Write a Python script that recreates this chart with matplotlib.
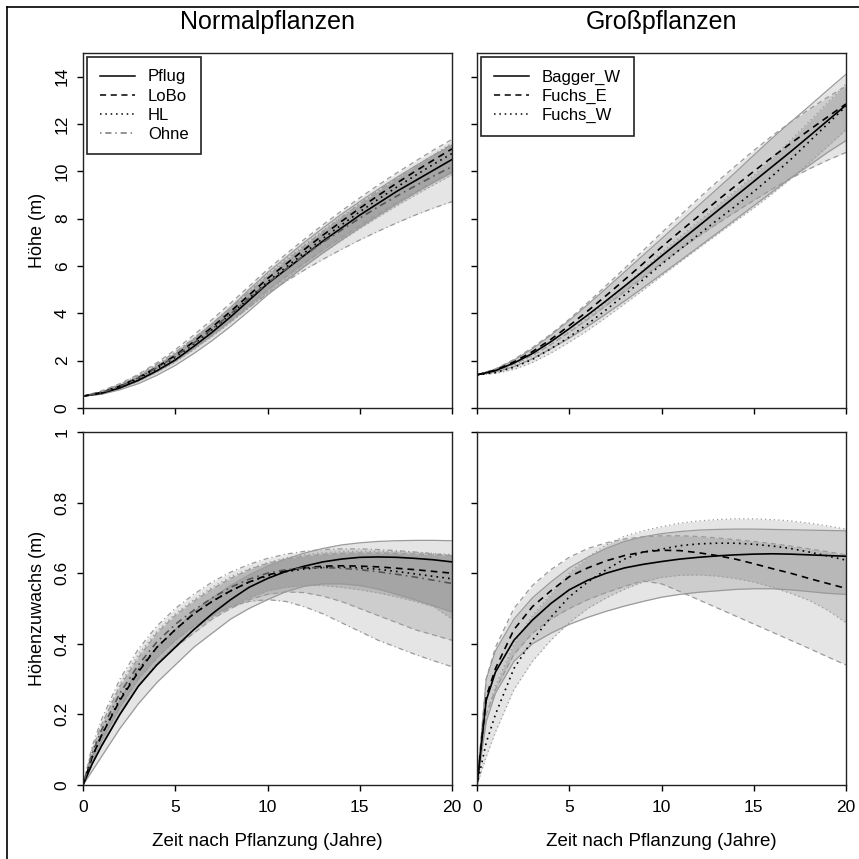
import matplotlib
matplotlib.use("Agg")
import matplotlib.pyplot as plt
from matplotlib.lines import Line2D
import numpy as np

plt.rcParams['font.family'] = ['Liberation Sans', 'DejaVu Sans']

# Zeitachsen (Jahre nach Pflanzung)
t_hoehe = [0, 1, 2, 3, 4, 5, 6, 7, 8, 9, 10, 11, 12, 13, 14, 15, 16, 17, 18, 19, 20]
t_zuwachs = [0, 0.5, 1, 2, 3, 4, 5, 6, 7, 8, 9, 10, 11, 12, 13, 14, 15, 16, 17, 18, 19, 20]

# --- Normalpflanzen: Hoehe (m) ---
pflug_h = [0.5, 0.62, 0.85, 1.17, 1.57, 2.03, 2.6, 3.2, 3.85, 4.55, 5.25, 5.85, 6.45, 7.05, 7.6, 8.15, 8.65, 9.15, 9.6, 10.05, 10.5]
pflug_h_lo = [0.5, 0.58, 0.77, 1.03, 1.38, 1.8, 2.3, 2.85, 3.45, 4.1, 4.78, 5.38, 5.98, 6.55, 7.1, 7.63, 8.13, 8.62, 9.08, 9.53, 9.95]
pflug_h_hi = [0.5, 0.66, 0.93, 1.31, 1.77, 2.28, 2.9, 3.56, 4.25, 5.0, 5.72, 6.36, 7.0, 7.6, 8.18, 8.72, 9.24, 9.74, 10.22, 10.68, 11.1]
lobo_h = [0.5, 0.66, 0.93, 1.28, 1.72, 2.22, 2.8, 3.42, 4.08, 4.77, 5.47, 6.08, 6.7, 7.3, 7.88, 8.44, 8.98, 9.5, 10.0, 10.48, 10.95]
lobo_h_lo = [0.5, 0.6, 0.83, 1.14, 1.53, 1.98, 2.51, 3.08, 3.69, 4.33, 4.98, 5.55, 6.12, 6.67, 7.2, 7.71, 8.2, 8.67, 9.12, 9.56, 10.0]
lobo_h_hi = [0.5, 0.72, 1.03, 1.42, 1.91, 2.46, 3.08, 3.74, 4.43, 5.14, 5.85, 6.5, 7.13, 7.74, 8.32, 8.88, 9.42, 9.93, 10.42, 10.9, 11.35]
hl_h = [0.5, 0.64, 0.9, 1.24, 1.66, 2.14, 2.7, 3.31, 3.96, 4.64, 5.33, 5.95, 6.56, 7.16, 7.73, 8.29, 8.82, 9.33, 9.82, 10.3, 10.75]
hl_h_lo = [0.5, 0.59, 0.82, 1.12, 1.5, 1.94, 2.46, 3.02, 3.62, 4.25, 4.88, 5.45, 6.01, 6.55, 7.07, 7.58, 8.07, 8.54, 8.99, 9.43, 9.85]
hl_h_hi = [0.5, 0.69, 0.98, 1.36, 1.82, 2.34, 2.93, 3.57, 4.24, 4.94, 5.64, 6.28, 6.9, 7.5, 8.08, 8.64, 9.18, 9.7, 10.2, 10.7, 11.2]
ohne_h = [0.5, 0.65, 0.92, 1.27, 1.7, 2.18, 2.74, 3.34, 3.98, 4.63, 5.28, 5.87, 6.45, 7.0, 7.52, 8.02, 8.5, 8.95, 9.38, 9.8, 10.2]
ohne_h_lo = [0.5, 0.6, 0.84, 1.16, 1.55, 2.0, 2.52, 3.08, 3.66, 4.25, 4.84, 5.35, 5.83, 6.28, 6.7, 7.1, 7.47, 7.82, 8.15, 8.45, 8.72]
ohne_h_hi = [0.5, 0.7, 1.0, 1.39, 1.85, 2.36, 2.94, 3.56, 4.22, 4.9, 5.58, 6.22, 6.85, 7.46, 8.05, 8.62, 9.17, 9.7, 10.2, 10.68, 11.15]

# --- Normalpflanzen: Hoehenzuwachs (m) ---
pflug_z = [0, 0.06, 0.11, 0.2, 0.28, 0.34, 0.39, 0.44, 0.485, 0.525, 0.56, 0.585, 0.605, 0.62, 0.632, 0.64, 0.645, 0.646, 0.645, 0.642, 0.638, 0.632]
pflug_z_lo = [0, 0.04, 0.08, 0.16, 0.23, 0.29, 0.34, 0.39, 0.43, 0.47, 0.5, 0.525, 0.548, 0.563, 0.57, 0.57, 0.565, 0.555, 0.54, 0.525, 0.508, 0.49]
pflug_z_hi = [0, 0.08, 0.14, 0.24, 0.33, 0.39, 0.44, 0.49, 0.53, 0.565, 0.595, 0.62, 0.64, 0.657, 0.67, 0.68, 0.686, 0.69, 0.692, 0.693, 0.693, 0.692]
lobo_z = [0, 0.08, 0.14, 0.24, 0.32, 0.39, 0.44, 0.485, 0.52, 0.55, 0.575, 0.595, 0.607, 0.615, 0.62, 0.621, 0.62, 0.618, 0.614, 0.61, 0.605, 0.6]
lobo_z_lo = [0, 0.06, 0.11, 0.2, 0.28, 0.34, 0.39, 0.43, 0.47, 0.5, 0.525, 0.54, 0.547, 0.545, 0.535, 0.52, 0.5, 0.48, 0.46, 0.44, 0.425, 0.41]
lobo_z_hi = [0, 0.1, 0.17, 0.28, 0.36, 0.43, 0.48, 0.52, 0.555, 0.585, 0.61, 0.628, 0.64, 0.648, 0.653, 0.656, 0.657, 0.657, 0.656, 0.654, 0.652, 0.65]
hl_z = [0, 0.08, 0.14, 0.245, 0.325, 0.39, 0.44, 0.485, 0.52, 0.55, 0.575, 0.592, 0.604, 0.612, 0.616, 0.617, 0.615, 0.611, 0.605, 0.598, 0.591, 0.584]
hl_z_lo = [0, 0.06, 0.11, 0.2, 0.28, 0.345, 0.395, 0.44, 0.475, 0.505, 0.53, 0.55, 0.56, 0.565, 0.565, 0.56, 0.553, 0.544, 0.533, 0.52, 0.505, 0.47]
hl_z_hi = [0, 0.1, 0.17, 0.285, 0.37, 0.435, 0.485, 0.525, 0.56, 0.59, 0.612, 0.63, 0.643, 0.652, 0.658, 0.661, 0.662, 0.662, 0.661, 0.659, 0.656, 0.653]
ohne_z = [0, 0.09, 0.155, 0.26, 0.34, 0.405, 0.455, 0.495, 0.53, 0.56, 0.583, 0.6, 0.61, 0.615, 0.616, 0.614, 0.61, 0.604, 0.597, 0.589, 0.58, 0.571]
ohne_z_lo = [0, 0.07, 0.125, 0.22, 0.3, 0.36, 0.41, 0.45, 0.48, 0.505, 0.52, 0.525, 0.52, 0.505, 0.485, 0.46, 0.435, 0.41, 0.39, 0.37, 0.352, 0.335]
ohne_z_hi = [0, 0.11, 0.185, 0.3, 0.385, 0.45, 0.5, 0.54, 0.575, 0.603, 0.625, 0.642, 0.654, 0.662, 0.667, 0.669, 0.669, 0.667, 0.664, 0.66, 0.655, 0.65]

# --- Grosspflanzen: Hoehe (m) ---
bagger_h = [1.4, 1.58, 1.9, 2.3, 2.8, 3.35, 3.93, 4.53, 5.15, 5.78, 6.42, 7.05, 7.68, 8.31, 8.94, 9.57, 10.2, 10.83, 11.48, 12.14, 12.8]
bagger_h_lo = [1.4, 1.52, 1.75, 2.08, 2.5, 2.95, 3.45, 3.98, 4.52, 5.08, 5.65, 6.22, 6.8, 7.38, 7.96, 8.55, 9.13, 9.72, 10.25, 10.8, 11.3]
bagger_h_hi = [1.4, 1.64, 2.02, 2.5, 3.07, 3.7, 4.37, 5.05, 5.75, 6.45, 7.15, 7.85, 8.55, 9.25, 9.95, 10.68, 11.4, 12.08, 12.75, 13.43, 14.1]
fuchse_h = [1.4, 1.6, 1.95, 2.38, 2.9, 3.48, 4.1, 4.75, 5.42, 6.1, 6.8, 7.46, 8.1, 8.75, 9.38, 10.0, 10.6, 11.18, 11.74, 12.3, 12.85]
fuchse_h_lo = [1.4, 1.55, 1.85, 2.22, 2.68, 3.2, 3.75, 4.33, 4.92, 5.52, 6.12, 6.7, 7.25, 7.78, 8.28, 8.77, 9.25, 9.7, 10.1, 10.47, 10.8]
fuchse_h_hi = [1.4, 1.65, 2.05, 2.55, 3.12, 3.75, 4.45, 5.17, 5.9, 6.65, 7.4, 8.13, 8.85, 9.55, 10.22, 10.88, 11.5, 12.08, 12.62, 13.13, 13.6]
fuchsw_h = [1.4, 1.5, 1.72, 2.05, 2.5, 3.0, 3.55, 4.15, 4.78, 5.42, 6.07, 6.7, 7.32, 7.93, 8.53, 9.14, 9.8, 10.5, 11.25, 12.0, 12.75]
fuchsw_h_lo = [1.4, 1.46, 1.63, 1.92, 2.32, 2.78, 3.28, 3.83, 4.4, 4.98, 5.58, 6.17, 6.75, 7.32, 7.89, 8.45, 9.05, 9.68, 10.35, 11.05, 11.75]
fuchsw_h_hi = [1.4, 1.54, 1.81, 2.18, 2.68, 3.22, 3.82, 4.47, 5.16, 5.86, 6.56, 7.23, 7.89, 8.54, 9.17, 9.83, 10.55, 11.32, 12.1, 12.9, 13.7]

# --- Grosspflanzen: Hoehenzuwachs (m) ---
bagger_z = [0, 0.24, 0.32, 0.41, 0.467, 0.514, 0.553, 0.58, 0.6, 0.615, 0.625, 0.633, 0.64, 0.645, 0.649, 0.652, 0.654, 0.655, 0.654, 0.652, 0.65, 0.648]
bagger_z_lo = [0, 0.18, 0.26, 0.35, 0.4, 0.43, 0.455, 0.475, 0.492, 0.507, 0.52, 0.532, 0.54, 0.546, 0.55, 0.554, 0.556, 0.556, 0.553, 0.548, 0.543, 0.54]
bagger_z_hi = [0, 0.3, 0.38, 0.47, 0.53, 0.575, 0.615, 0.645, 0.67, 0.69, 0.703, 0.712, 0.718, 0.722, 0.724, 0.725, 0.725, 0.724, 0.723, 0.722, 0.721, 0.72]
fuchse_z = [0, 0.25, 0.33, 0.44, 0.505, 0.55, 0.59, 0.615, 0.635, 0.65, 0.66, 0.665, 0.664, 0.658, 0.65, 0.64, 0.627, 0.613, 0.6, 0.585, 0.571, 0.557]
fuchse_z_lo = [0, 0.2, 0.27, 0.37, 0.43, 0.47, 0.5, 0.525, 0.545, 0.563, 0.578, 0.57, 0.548, 0.525, 0.502, 0.479, 0.456, 0.433, 0.41, 0.387, 0.363, 0.34]
fuchse_z_hi = [0, 0.3, 0.39, 0.5, 0.565, 0.61, 0.645, 0.67, 0.686, 0.697, 0.703, 0.706, 0.706, 0.704, 0.7, 0.695, 0.69, 0.684, 0.677, 0.669, 0.661, 0.652]
fuchsw_z = [0, 0.12, 0.2, 0.33, 0.41, 0.475, 0.533, 0.575, 0.61, 0.64, 0.66, 0.668, 0.678, 0.683, 0.685, 0.685, 0.682, 0.677, 0.67, 0.66, 0.649, 0.637]
fuchsw_z_lo = [0, 0.08, 0.15, 0.27, 0.35, 0.41, 0.46, 0.5, 0.53, 0.555, 0.575, 0.588, 0.594, 0.595, 0.592, 0.585, 0.575, 0.56, 0.543, 0.523, 0.495, 0.46]
fuchsw_z_hi = [0, 0.2, 0.28, 0.4, 0.48, 0.54, 0.6, 0.645, 0.68, 0.705, 0.72, 0.732, 0.742, 0.748, 0.752, 0.754, 0.754, 0.752, 0.748, 0.742, 0.734, 0.725]

# Linientypen wie in R: lty 1, 2, 3, 4
STYLES = ['-', (0, (4, 3)), (0, (1, 2.5)), (0, (1, 2.5, 4, 2.5))]
MEAN_COLORS = ['black', 'black', 'black', '#555555']

normal_names = ['Pflug', 'LoBo', 'HL', 'Ohne']
gross_names = ['Bagger_W', 'Fuchs_E', 'Fuchs_W']

normal_hoehe = [(pflug_h, pflug_h_lo, pflug_h_hi), (lobo_h, lobo_h_lo, lobo_h_hi),
                (hl_h, hl_h_lo, hl_h_hi), (ohne_h, ohne_h_lo, ohne_h_hi)]
normal_zuwachs = [(pflug_z, pflug_z_lo, pflug_z_hi), (lobo_z, lobo_z_lo, lobo_z_hi),
                  (hl_z, hl_z_lo, hl_z_hi), (ohne_z, ohne_z_lo, ohne_z_hi)]
gross_hoehe = [(bagger_h, bagger_h_lo, bagger_h_hi), (fuchse_h, fuchse_h_lo, fuchse_h_hi),
               (fuchsw_h, fuchsw_h_lo, fuchsw_h_hi)]
gross_zuwachs = [(bagger_z, bagger_z_lo, bagger_z_hi), (fuchse_z, fuchse_z_lo, fuchse_z_hi),
                 (fuchsw_z, fuchsw_z_lo, fuchsw_z_hi)]


def draw_panel(ax, t, groups):
    # Konfidenzbaender zuerst, dann Raender, dann Mittelwertkurven
    for mean, lo, hi in groups:
        ax.fill_between(t, lo, hi, color='black', alpha=0.1, lw=0)
    for i, (mean, lo, hi) in enumerate(groups):
        ax.plot(t, lo, color='#9a9a9a', lw=0.9, linestyle=STYLES[i])
        ax.plot(t, hi, color='#9a9a9a', lw=0.9, linestyle=STYLES[i])
    for i, (mean, lo, hi) in enumerate(groups):
        ax.plot(t, mean, color=MEAN_COLORS[i], lw=1.2, linestyle=STYLES[i])


def style_axes(ax, ylim, yticks, yticklabels, show_x, show_y):
    ax.set_xlim(0, 20)
    ax.set_ylim(*ylim)
    ax.set_xticks([0, 5, 10, 15, 20])
    ax.set_yticks(yticks)
    ax.set_yticklabels(yticklabels, rotation=90, va='center')
    ax.tick_params(direction='out', length=4.5, width=1, labelsize=12.5)
    ax.tick_params(axis='x', labelbottom=show_x, pad=6)
    ax.tick_params(axis='y', labelleft=show_y, pad=5)
    for sp in ax.spines.values():
        sp.set_linewidth(1.0)
        sp.set_color('#222222')


fig = plt.figure(figsize=(8.59, 8.59), dpi=100)
W = 859.0
ax_tl = fig.add_axes([83 / W, 1 - 408 / W, 369 / W, 355 / W])
ax_tr = fig.add_axes([477 / W, 1 - 408 / W, 369 / W, 355 / W])
ax_bl = fig.add_axes([83 / W, 1 - 785 / W, 369 / W, 353 / W])
ax_br = fig.add_axes([477 / W, 1 - 785 / W, 369 / W, 353 / W])

draw_panel(ax_tl, t_hoehe, normal_hoehe)
draw_panel(ax_tr, t_hoehe, gross_hoehe)
draw_panel(ax_bl, t_zuwachs, normal_zuwachs)
draw_panel(ax_br, t_zuwachs, gross_zuwachs)

h_ticks = [0, 2, 4, 6, 8, 10, 12, 14]
z_ticks = [0, 0.2, 0.4, 0.6, 0.8, 1.0]
z_labels = ['0', '0.2', '0.4', '0.6', '0.8', '1']
style_axes(ax_tl, (0, 15), h_ticks, [str(v) for v in h_ticks], False, True)
style_axes(ax_tr, (0, 15), h_ticks, [str(v) for v in h_ticks], False, False)
style_axes(ax_bl, (0, 1), z_ticks, z_labels, True, True)
style_axes(ax_br, (0, 1), z_ticks, z_labels, True, False)

ax_tl.set_title('Normalpflanzen', fontsize=18, pad=17)
ax_tr.set_title('Großpflanzen', fontsize=18, pad=17)
ax_tl.set_ylabel('Höhe (m)', fontsize=13, labelpad=6)
ax_bl.set_ylabel('Höhenzuwachs (m)', fontsize=13, labelpad=6)
ax_bl.set_xlabel('Zeit nach Pflanzung (Jahre)', fontsize=13.5, labelpad=13)
ax_br.set_xlabel('Zeit nach Pflanzung (Jahre)', fontsize=13.5, labelpad=13)


def add_legend(ax, names):
    handles = [Line2D([], [], color=MEAN_COLORS[i] if i < 3 else '#777777', lw=1.1,
                      linestyle=STYLES[i]) for i in range(len(names))]
    leg = ax.legend(handles, names, loc='upper left', bbox_to_anchor=(0.011, 0.989),
                    borderaxespad=0, fancybox=False, fontsize=12, handlelength=2.1,
                    handletextpad=0.8, labelspacing=0.25, borderpad=0.75,
                    framealpha=1)
    leg.get_frame().set_edgecolor('#222222')
    leg.get_frame().set_linewidth(1.2)


add_legend(ax_tl, normal_names)
add_legend(ax_tr, gross_names)

# Rahmen am linken und oberen Rand
fig.add_artist(Line2D([7 / W, 7 / W], [0, 1 - 7 / W], color='black', lw=1.2))
fig.add_artist(Line2D([7 / W, 1], [1 - 7 / W, 1 - 7 / W], color='black', lw=1.2))

fig.savefig('out.png', dpi=100)
